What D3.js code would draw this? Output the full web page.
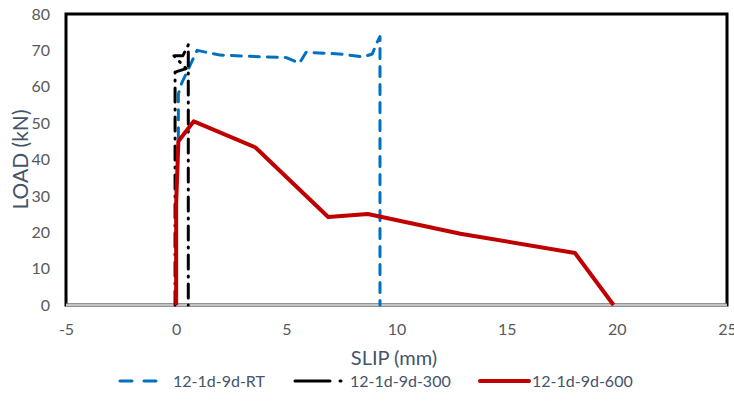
<!DOCTYPE html>
<html>
<head>
<meta charset="utf-8">
<script src="https://cdn.jsdelivr.net/npm/d3@7"></script>
<style>
  body { margin: 0; background: #fff; }
  svg { font-family: Lato, "Open Sans", sans-serif; }
</style>
</head>
<body>
<svg id="chart"></svg>
<script>
// series: [slip mm, load kN]
const seriesRT = [[0.1, 46], [0.1, 58], [0.25, 61], [0.95, 70], [2, 68.7], [4, 68.2], [5, 68], [5.6, 66.5], [5.9, 69.5],
  [7.4, 69], [8.5, 68.2], [8.9, 69], [9.1, 72], [9.25, 73.8], [9.25, 0]];
const series300 = [[-0.05, 0], [-0.05, 64], [0.45, 65], [-0.1, 68.5], [0.3, 68.5], [0.55, 71.5], [0.55, 0]];
const series600 = [[0, 0], [0, 28], [0.1, 45], [0.8, 50.5], [3.6, 43.3], [6.9, 24.2], [8.7, 25], [12.9, 19.6], [18.1, 14.3], [19.85, 0]];
const names = ['12-1d-9d-RT', '12-1d-9d-300', '12-1d-9d-600'];
const xTicks = [-5, 0, 5, 10, 15, 20, 25];
const yTicks = [0, 10, 20, 30, 40, 50, 60, 70, 80];

const W = 734, H = 401;
const margin = { top: 14, right: 7, bottom: 96, left: 66 };
const width = W - margin.left - margin.right;
const height = H - margin.top - margin.bottom;

const svg = d3.select('#chart').attr('width', W).attr('height', H);
const g = svg.append('g').attr('transform', `translate(${margin.left},${margin.top})`);

const x = d3.scaleLinear().domain([-5, 25]).range([0, width]);
const y = d3.scaleLinear().domain([0, 80]).range([height, 0]);

// axes
const xAxis = d3.axisBottom(x).tickValues(xTicks).tickFormat(d => String(d)).tickSize(0).tickPadding(19);
const yAxis = d3.axisLeft(y).tickValues(yTicks).tickSize(0).tickPadding(16);

const xg = g.append('g').attr('transform', `translate(0,${height})`).call(xAxis);
const yg = g.append('g').call(yAxis);
[xg, yg].forEach(a => {
  a.select('.domain').remove();
  a.selectAll('text').attr('fill', '#595959').style('font-size', '16px').style('font-family', 'Lato, sans-serif');
});

// frame
g.append('rect')
  .attr('x', 0).attr('y', 0).attr('width', width).attr('height', height)
  .attr('fill', 'none').attr('stroke', '#000').attr('stroke-width', 3);
// zero line (gray)
g.append('line')
  .attr('x1', 0).attr('x2', width).attr('y1', y(0)).attr('y2', y(0))
  .attr('stroke', '#a6a6a6').attr('stroke-width', 3);
g.append('line')
  .attr('x1', 0).attr('x2', width).attr('y1', y(0)).attr('y2', y(0))
  .attr('stroke', '#e0e0e0').attr('stroke-width', 1);

const line = d3.line().x(d => x(d[0])).y(d => y(d[1]));

const styles = [
  { data: seriesRT, color: '#0070C0', width: 3, dash: '10,8' },
  { data: series300, color: '#000000', width: 3, dash: '14,7,1,7' },
  { data: series600, color: '#C00000', width: 4, dash: null }
];

styles.forEach(s => {
  g.append('path')
    .datum(s.data)
    .attr('fill', 'none')
    .attr('stroke', s.color)
    .attr('stroke-width', s.width)
    .attr('stroke-linecap', s.dash ? 'round' : 'butt')
    .attr('stroke-linejoin', 'round')
    .attr('stroke-dasharray', s.dash)
    .attr('d', line);
});

// axis titles
svg.append('text')
  .attr('x', 394).attr('y', 365)
  .attr('text-anchor', 'middle')
  .attr('fill', '#44546A')
  .style('font-size', '20px')
  .text('SLIP (mm)');

svg.append('text')
  .attr('transform', `translate(28,${margin.top + height / 2}) rotate(-90)`)
  .attr('text-anchor', 'middle')
  .attr('fill', '#44546A')
  .style('font-size', '21px')
  .text('LOAD (kN)');

// legend
const legendLines = [[120, 157], [295, 330], [480, 529]];
const legendText = [173, 350, 532];
const legendDash = ['12,12', '35,10,1,10', null];
const leg = svg.append('g');
styles.forEach((s, i) => {
  leg.append('line')
    .attr('x1', legendLines[i][0]).attr('x2', legendLines[i][1] + (i === 1 ? 12 : 0))
    .attr('y1', 381).attr('y2', 381)
    .attr('stroke', s.color)
    .attr('stroke-width', s.width)
    .attr('stroke-linecap', 'round')
    .attr('stroke-dasharray', legendDash[i]);
  leg.append('text')
    .attr('x', legendText[i])
    .attr('y', 387)
    .attr('fill', '#44546A')
    .style('font-size', '16px')
    .text(names[i]);
});
</script>
</body>
</html>
